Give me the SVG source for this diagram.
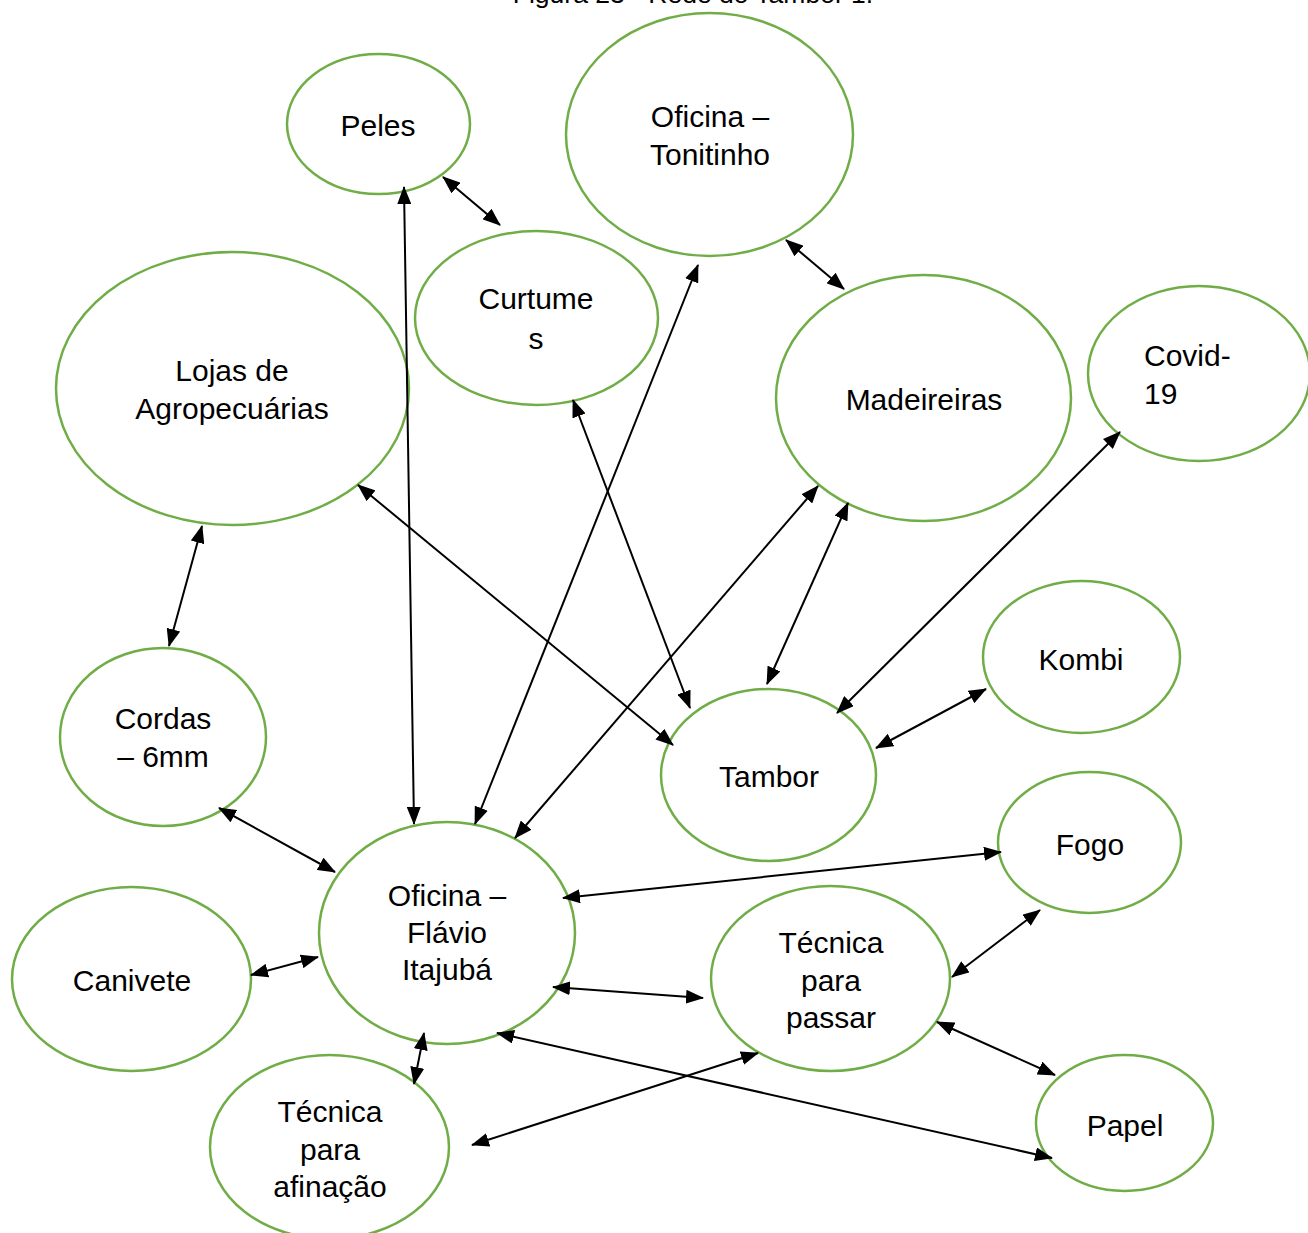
<svg xmlns="http://www.w3.org/2000/svg" width="1308" height="1233" viewBox="0 0 1308 1233">
<defs>
<marker id="ah" viewBox="0 0 18 14" markerWidth="18" markerHeight="14" refX="17" refY="7" orient="auto-start-reverse" markerUnits="userSpaceOnUse">
<path d="M0,0 L18,7 L0,14 z" fill="#000"/>
</marker>
<style>
.n{fill:#fff;stroke:#70AD47;stroke-width:2.5}
.t{font-family:"Liberation Sans",Arial,sans-serif;font-size:30px;fill:#000;text-anchor:middle}
.s{text-anchor:start}
.c line{stroke:#000;stroke-width:2;marker-start:url(#ah);marker-end:url(#ah)}
</style>
</defs>
<rect width="1308" height="1233" fill="#fff"/>
<text x="693" y="3" font-family="Liberation Sans, Arial, sans-serif" font-size="26.5" text-anchor="middle">Figura 23 - Rede do Tambor 1.</text>
<g id="nodes">
<g id="peles"><ellipse class="n" cx="378.5" cy="124" rx="91.5" ry="70"/><text class="t" x="378" y="136">Peles</text></g>
<g id="tonitinho"><ellipse class="n" cx="709.5" cy="134.5" rx="143.5" ry="121.5"/><text class="t" x="710" y="127">Oficina –</text><text class="t" x="710" y="165">Tonitinho</text></g>
<g id="curtumes"><ellipse class="n" cx="536.5" cy="318" rx="121.5" ry="87"/><text class="t" x="536" y="309">Curtume</text><text class="t" x="536" y="349">s</text></g>
<g id="lojas"><ellipse class="n" cx="232.5" cy="388.5" rx="176.5" ry="136.5"/><text class="t" x="232" y="381">Lojas de</text><text class="t" x="232" y="419">Agropecuárias</text></g>
<g id="madeireiras"><ellipse class="n" cx="923.5" cy="398" rx="147.5" ry="123"/><text class="t" x="924" y="410">Madeireiras</text></g>
<g id="covid"><ellipse class="n" cx="1199" cy="373.5" rx="111" ry="87.5"/><text class="t s" x="1144" y="366">Covid-</text><text class="t s" x="1144" y="404">19</text></g>
<g id="kombi"><ellipse class="n" cx="1081.5" cy="657" rx="98.5" ry="76"/><text class="t" x="1081" y="670">Kombi</text></g>
<g id="cordas"><ellipse class="n" cx="163" cy="737" rx="103" ry="89"/><text class="t" x="163" y="729">Cordas</text><text class="t" x="163" y="767">– 6mm</text></g>
<g id="tambor"><ellipse class="n" cx="768.5" cy="775" rx="107.5" ry="86"/><text class="t" x="769" y="787">Tambor</text></g>
<g id="fogo"><ellipse class="n" cx="1089.5" cy="842.5" rx="91.5" ry="70.5"/><text class="t" x="1090" y="855">Fogo</text></g>
<g id="flavio"><ellipse class="n" cx="447" cy="933" rx="128" ry="111"/><text class="t" x="447" y="906">Oficina –</text><text class="t" x="447" y="943">Flávio</text><text class="t" x="447" y="980">Itajubá</text></g>
<g id="canivete"><ellipse class="n" cx="131.5" cy="979" rx="119.5" ry="92"/><text class="t" x="132" y="991">Canivete</text></g>
<g id="passar"><ellipse class="n" cx="830.5" cy="978.5" rx="119.5" ry="92.5"/><text class="t" x="831" y="953">Técnica</text><text class="t" x="831" y="991">para</text><text class="t" x="831" y="1028">passar</text></g>
<g id="papel"><ellipse class="n" cx="1124.5" cy="1123" rx="88.5" ry="68"/><text class="t" x="1125" y="1136">Papel</text></g>
<g id="afinacao"><ellipse class="n" cx="329.5" cy="1147" rx="119.5" ry="92"/><text class="t" x="330" y="1122">Técnica</text><text class="t" x="330" y="1160">para</text><text class="t" x="330" y="1197">afinação</text></g>
</g>
<g id="connectors" class="c">
<line x1="404" y1="187" x2="414" y2="824"/>
<line x1="443" y1="177" x2="500" y2="225"/>
<line x1="786" y1="240" x2="844" y2="289"/>
<line x1="698" y1="265" x2="475" y2="824"/>
<line x1="573" y1="400" x2="690" y2="708"/>
<line x1="358" y1="485" x2="673" y2="745"/>
<line x1="202" y1="526" x2="169" y2="646"/>
<line x1="818" y1="486" x2="515" y2="838"/>
<line x1="848" y1="503" x2="767" y2="684"/>
<line x1="1120" y1="432" x2="837" y2="713"/>
<line x1="986" y1="689" x2="876" y2="748"/>
<line x1="219" y1="808" x2="335" y2="872"/>
<line x1="1001" y1="852" x2="563" y2="898"/>
<line x1="251" y1="975" x2="318" y2="957"/>
<line x1="553" y1="987" x2="703" y2="998"/>
<line x1="1040" y1="910" x2="952" y2="977"/>
<line x1="937" y1="1022" x2="1055" y2="1075"/>
<line x1="497" y1="1033" x2="1052" y2="1158"/>
<line x1="758" y1="1053" x2="472" y2="1145"/>
<line x1="424" y1="1033" x2="414" y2="1084"/>
</g>
</svg>
